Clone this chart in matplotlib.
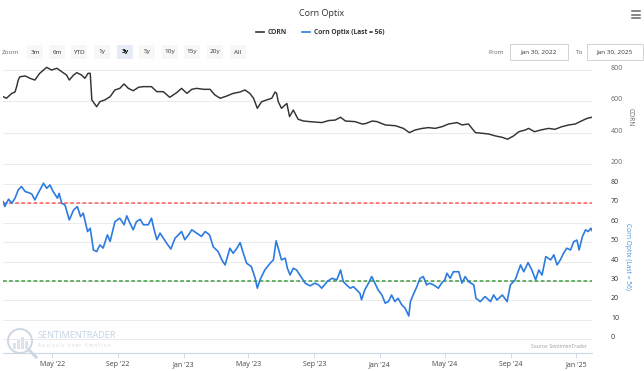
import matplotlib
matplotlib.use('Agg')
import matplotlib.pyplot as plt
import matplotlib.transforms as mtransforms
from matplotlib.patches import Rectangle, Circle
from matplotlib.lines import Line2D
import pandas as pd

plt.rcParams['font.family'] = ['Open Sans', 'DejaVu Sans']

# ---------------- data ----------------
start_date = pd.Timestamp('2022-01-30')
end_date = pd.Timestamp('2025-01-30')

corn_days = [0, 6, 16, 22, 25, 28, 31, 41, 50, 59,
             68, 81, 90, 100, 109, 118, 123, 131, 137, 146,
             152, 158, 162, 165, 174, 180, 189, 199, 208, 217,
             225, 233, 242, 252, 261, 276, 286, 298, 310, 323,
             332, 342, 351, 360, 373, 385, 394, 404, 416, 428,
             441, 450, 459, 466, 473, 481, 490, 500, 506, 509,
             512, 518, 528, 533, 540, 549, 559, 571, 593, 606,
             618, 628, 637, 655, 668, 674, 687, 696, 711, 730,
             745, 756, 767, 780, 792, 804, 817, 829, 845, 854,
             866, 879, 891, 904, 916, 929, 939, 950, 960, 972,
             978, 989, 1001, 1015, 1027, 1040, 1053, 1065, 1078, 1087,
             1096]
corn_values = [630, 620, 651, 660, 694, 736, 757, 762, 747, 736,
               779, 817, 800, 811, 789, 768, 736, 768, 783, 768,
               747, 779, 779, 609, 566, 598, 609, 630, 673, 683,
               711, 683, 668, 690, 694, 694, 662, 662, 626, 656,
               683, 651, 677, 683, 677, 677, 641, 620, 634, 651,
               660, 673, 651, 620, 556, 598, 609, 620, 660, 651,
               598, 556, 587, 503, 545, 486, 475, 471, 465, 478,
               481, 499, 475, 471, 456, 458, 475, 471, 450, 445,
               428, 401, 418, 428, 433, 428, 439, 456, 465, 450,
               456, 401, 397, 392, 380, 371, 359, 380, 407, 418,
               428, 407, 418, 428, 422, 439, 450, 456, 478, 492,
               499]

optix_days = [0, 3, 10, 16, 22, 28, 34, 41, 47, 53,
              59, 65, 75, 81, 87, 93, 101, 104, 109, 115,
              123, 131, 138, 144, 149, 157, 162, 168, 174, 180,
              186, 194, 199, 208, 217, 225, 230, 236, 242, 248,
              255, 261, 270, 276, 281, 286, 292, 298, 304, 312,
              320, 326, 332, 338, 345, 351, 360, 369, 376, 384,
              391, 400, 407, 413, 422, 428, 435, 441, 447, 453,
              462, 469, 473, 478, 487, 497, 503, 508, 512, 518,
              525, 529, 534, 540, 546, 556, 562, 571, 580, 587,
              593, 603, 612, 621, 628, 633, 639, 646, 652, 658,
              664, 667, 673, 680, 686, 692, 698, 705, 711, 717,
              723, 729, 735, 742, 748, 755, 758, 763, 770, 776,
              782, 788, 794, 801, 810, 816, 822, 826, 832, 838,
              848, 854, 860, 866, 876, 880, 888, 897, 907, 913,
              919, 929, 938, 944, 953, 963, 969, 977, 984, 991,
              997, 1003, 1010, 1019, 1025, 1031, 1037, 1043, 1049, 1056,
              1062, 1068, 1072, 1078, 1084, 1089, 1094, 1096]
optix_values = [70.9, 68.4, 72.2, 70.1, 72.7, 77.0, 78.7, 76.1, 75.6, 74.9,
                71.8, 75.2, 80.4, 77.8, 79.5, 76.1, 72.7, 75.2, 70.1, 69.2,
                61.5, 66.6, 68.4, 63.2, 65.0, 55.5, 57.2, 46.0, 45.2, 48.6,
                47.0, 53.8, 50.4, 60.6, 62.4, 59.0, 63.6, 59.8, 56.4, 60.6,
                61.8, 59.0, 59.0, 62.4, 56.4, 51.3, 54.7, 52.1, 49.6, 46.5,
                52.1, 53.8, 55.5, 51.3, 53.8, 56.4, 54.7, 53.0, 55.5, 53.8,
                47.6, 45.2, 40.9, 38.3, 46.9, 44.3, 46.9, 49.8, 44.3, 39.2,
                37.4, 31.4, 26.3, 30.6, 35.7, 39.2, 40.9, 50.7, 46.9, 40.9,
                41.8, 36.6, 33.1, 36.6, 35.7, 31.4, 28.9, 27.5, 28.9, 28.0,
                26.3, 29.7, 31.4, 30.6, 35.7, 29.7, 28.0, 26.3, 27.1, 25.4,
                23.7, 20.3, 25.4, 28.9, 32.3, 28.9, 25.4, 22.8, 18.6, 19.4,
                22.8, 19.4, 21.1, 17.7, 16.0, 12.0, 19.4, 22.8, 27.1, 31.4,
                32.3, 28.0, 28.9, 28.0, 26.3, 28.9, 30.6, 34.0, 31.4, 34.8,
                34.8, 28.9, 32.3, 29.7, 28.0, 21.1, 19.4, 22.0, 19.4, 22.8,
                20.2, 22.8, 19.4, 28.0, 30.6, 38.3, 34.8, 39.5, 35.7, 30.6,
                35.7, 33.1, 42.6, 40.9, 43.5, 38.3, 40.9, 44.3, 46.9, 46.0,
                50.3, 51.1, 46.0, 52.8, 56.4, 55.5, 57.2, 56.0]

upper_threshold = 70
lower_threshold = 30

corn_ticks = [200, 400, 600, 800]
optix_ticks = [0, 10, 20, 30, 40, 50, 60, 70, 80]

x_tick_dates = ['2022-05-01', '2022-09-01', '2023-01-01', '2023-05-01', '2023-09-01',
                '2024-01-01', '2024-05-01', '2024-09-01', '2025-01-01']
x_tick_labels = ["May '22", "Sep '22", "Jan '23", "May '23", "Sep '23",
                 "Jan '24", "May '24", "Sep '24", "Jan '25"]

zoom_buttons = ['3m', '6m', 'YTD', '1y', '3y', '5y', '10y', '15y', '20y', 'All']
selected_button = '3y'

corn_dates = start_date + pd.to_timedelta(corn_days, unit='D')
optix_dates = start_date + pd.to_timedelta(optix_days, unit='D')

# ---------------- figure ----------------
W, H = 644, 371
fig = plt.figure(figsize=(W / 100, H / 100), dpi=100)
fig.patch.set_facecolor('white')


def rect(x0, y0, x1, y1):
    return [x0 / W, 1 - y1 / H, (x1 - x0) / W, (y1 - y0) / H]


def fx(x):
    return x / W


def fy(y):
    return 1 - y / H


ax1 = fig.add_axes(rect(3.2, 62, 592, 167))
ax2 = fig.add_axes(rect(3.2, 172, 592, 353))

CORN_C = '#333333'
OPTIX_C = '#2c7be0'
GRID_C = '#e8e8e8'

ax1.plot(corn_dates, corn_values, color=CORN_C, lw=1.05, zorder=3)
ax2.plot(optix_dates, optix_values, color=OPTIX_C, lw=1.2, zorder=3)
ax2.axhline(upper_threshold, color='#ff5a5a', lw=1.1, ls=(0, (2.4, 1.6)), zorder=2)
ax2.axhline(lower_threshold, color='#3c9b3c', lw=1.1, ls=(0, (2.4, 1.6)), zorder=2)

ax1.set_ylim(182, 851)
ax2.set_ylim(-7.1, 86.2)
for ax in (ax1, ax2):
    ax.set_xlim(start_date, end_date)
    ax.set_facecolor('none')
    for s in ax.spines.values():
        s.set_visible(False)
    ax.tick_params(axis='y', length=0, labelleft=False, labelright=False)
    ax.grid(axis='y', color=GRID_C, lw=0.6, zorder=0)

ax1.set_yticks(corn_ticks)
ax2.set_yticks(optix_ticks)
ax1.set_xticks([])

ax2.spines['bottom'].set_visible(True)
ax2.spines['bottom'].set_color('#ccd6eb')
ax2.spines['bottom'].set_linewidth(0.8)
ax2.set_xticks(pd.to_datetime(x_tick_dates))
ax2.set_xticklabels(x_tick_labels)
ax2.tick_params(axis='x', length=3.5, width=0.6, color='#ccd6eb', pad=2.5,
                labelsize=5, labelcolor='#444444')

offset = mtransforms.ScaledTranslation(19 / 100, 0, fig.dpi_scale_trans)
for ax, ticks, col in ((ax1, corn_ticks, '#666666'), (ax2, optix_ticks, '#333333')):
    tr = mtransforms.blended_transform_factory(ax.transAxes, ax.transData) + offset
    for v in ticks:
        ax.text(1, v, str(v), transform=tr, ha='left', va='baseline',
                fontsize=5, color=col, clip_on=False)

fig.text(fx(630), fy(117), 'CORN', rotation=270, ha='center', va='center',
         fontsize=4.8, color='#666666')
fig.text(fx(627), fy(256), 'Corn Optix (Last = 56)', rotation=270, ha='center',
         va='center', fontsize=4.8, color='#4a90dc')

# title and legend
fig.text(fx(322), fy(13), 'Corn Optix', ha='center', va='center', fontsize=6.5, color='#333333')
fig.add_artist(Line2D([fx(256), fx(264)], [fy(32), fy(32)], color=CORN_C, lw=1.2))
fig.text(fx(268), fy(32), 'CORN', ha='left', va='center', fontsize=4.8,
         fontweight='bold', color='#333333')
fig.add_artist(Line2D([fx(302), fx(310)], [fy(32), fy(32)], color=OPTIX_C, lw=1.2))
fig.text(fx(314), fy(32), 'Corn Optix (Last = 56)', ha='left', va='center', fontsize=4.8,
         fontweight='bold', color='#333333')

# hamburger
for yy in (11, 14.5, 18):
    fig.add_artist(Line2D([fx(632), fx(640)], [fy(yy), fy(yy)], color='#666666', lw=1.1))

# range selector
fig.text(fx(2), fy(52), 'Zoom', ha='left', va='center', fontsize=4.6, color='#666666')
bx = [27, 49, 71, 94, 117, 139, 162, 184, 207, 230]
for lab, x0 in zip(zoom_buttons, bx):
    sel = lab == selected_button
    fig.add_artist(Rectangle((fx(x0), fy(59)), 16 / W, 14 / H, transform=fig.transFigure,
                             facecolor='#e6ebf5' if sel else '#f7f7f7', edgecolor='none'))
    fig.text(fx(x0 + 8), fy(52), lab, ha='center', va='center', fontsize=4.6,
             color='#000000' if sel else '#333333', fontweight='bold' if sel else 'normal')

fig.text(fx(488), fy(52), 'From', ha='left', va='center', fontsize=4.6, color='#666666')
fig.add_artist(Rectangle((fx(510), fy(60)), 58 / W, 16 / H, transform=fig.transFigure,
                         facecolor='white', edgecolor='#cccccc', lw=0.6))
fig.text(fx(539), fy(52), 'Jan 30, 2022', ha='center', va='center', fontsize=4.6, color='#333333')
fig.text(fx(576), fy(52), 'To', ha='left', va='center', fontsize=4.6, color='#666666')
fig.add_artist(Rectangle((fx(587), fy(60)), 56 / W, 16 / H, transform=fig.transFigure,
                         facecolor='white', edgecolor='#cccccc', lw=0.6))
fig.text(fx(615), fy(52), 'Jan 30, 2025', ha='center', va='center', fontsize=4.6, color='#333333')

# logo + source
px = fig.dpi_scale_trans
fig.add_artist(Circle((20 / 100, (H - 341) / 100), 12 / 100, transform=px,
                      facecolor='none', edgecolor='#cfd8e0', lw=1.4))
for bxp, bh in ((13, 6), (17, 9), (21, 12), (25, 8)):
    fig.add_artist(Rectangle((bxp / 100, (H - 349) / 100), 3 / 100, bh / 100, transform=px,
                             facecolor='#dde3e8', edgecolor='none'))
fig.add_artist(Line2D([29 / 100, 36 / 100], [(H - 350) / 100, (H - 357) / 100],
                      transform=px, color='#cfd8e0', lw=2.2))
fig.text(fx(38), fy(336), 'SENTIMENTRADER', ha='left', va='center', fontsize=6.6,
         color='#c3d3e3')
fig.text(fx(38), fy(345), 'A n a l y s i s   o v e r   E m o t i o n', ha='left', va='center',
         fontsize=3.3, color='#cfd6dd')
fig.text(fx(587), fy(347), 'Source: SentimenTrader', ha='right', va='center', fontsize=3.6,
         color='#9a9a9a')

fig.savefig('out.png', dpi=100, facecolor='white')
